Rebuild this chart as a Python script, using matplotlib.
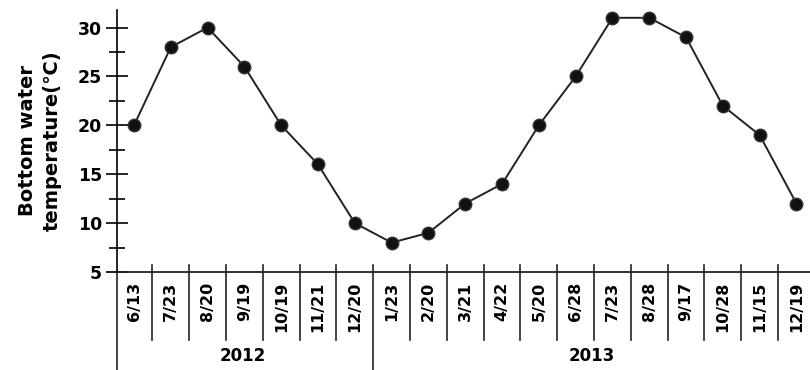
import matplotlib
matplotlib.use("Agg")
import matplotlib.pyplot as plt

plt.rcParams['font.family'] = ['DejaVu Sans', 'Noto Sans CJK JP']
plt.rcParams['font.weight'] = 'bold'

# sampling dates and bottom water temperature
dates = ['6/13', '7/23', '8/20', '9/19', '10/19', '11/21', '12/20',
         '1/23', '2/20', '3/21', '4/22', '5/20', '6/28', '7/23', '8/28',
         '9/17', '10/28', '11/15', '12/19']
temps = [20, 28, 30, 26, 20, 16, 10, 8, 9, 12, 14, 20, 25, 31, 31, 29, 22, 19, 12]
years = ['2012', '2013']
year_counts = [7, 12]

fig = plt.figure(figsize=(8.1, 3.7), dpi=100)
ax = fig.add_axes([0.145, 0.265, 0.861, 0.708])

x = list(range(len(dates)))
ax.plot(x, temps, color='#222222', lw=1.4, marker='o', ms=9,
        mfc='#111111', mec='#333333', mew=1.0, clip_on=False, zorder=3)

ax.set_xlim(-0.45, len(dates) - 0.5)
ax.set_ylim(5, 31.8)
ax.set_yticks([5, 10, 15, 20, 25, 30])
ax.set_yticks([7.5, 12.5, 17.5, 22.5, 27.5], minor=True)
ax.tick_params(axis='y', which='major', direction='inout', length=16, width=1.2,
               labelsize=12.5, pad=3)
ax.tick_params(axis='y', which='minor', direction='inout', length=11, width=1.2)
for lbl in ax.get_yticklabels():
    lbl.set_fontweight('bold')

ax.set_xticks([])
for s in ['top', 'right', 'bottom']:
    ax.spines[s].set_visible(False)
ax.spines['left'].set_linewidth(1.2)

ax.set_ylabel('Bottom water\ntemperature(℃)', fontsize=14, fontweight='bold',
              labelpad=12, linespacing=1.35)

trans = ax.get_xaxis_transform()
# baseline at y=5, running a bit left of the axis
ax.plot([-0.65, len(dates) - 0.5], [0, 0], transform=trans, color='#222222',
        lw=1.3, clip_on=False)
# left axis carried down through the label area
ax.plot([-0.45, -0.45], [0, -0.40], transform=trans, color='#222222',
        lw=1.2, clip_on=False)

# cell separators and date labels
boundary = year_counts[0] - 0.5
for k in range(len(dates) - 1):
    xb = k + 0.5
    if xb == boundary:
        ax.plot([xb, xb], [0.027, -0.40], transform=trans, color='#222222',
                lw=1.2, clip_on=False)
    else:
        ax.plot([xb, xb], [0.027, -0.26], transform=trans, color='#222222',
                lw=1.2, clip_on=False)
for i, d in enumerate(dates):
    ax.text(i, -0.036, d, transform=trans, rotation=90, ha='center', va='top',
            fontsize=11.5, fontweight='bold')

# year labels centred under their groups
start = -0.55
for yr, n in zip(years, year_counts):
    mid = start + n / 2
    ax.text(mid, -0.32, yr, transform=trans, ha='center', va='center',
            fontsize=12, fontweight='bold')
    start += n

fig.savefig('out.png', dpi=100)
